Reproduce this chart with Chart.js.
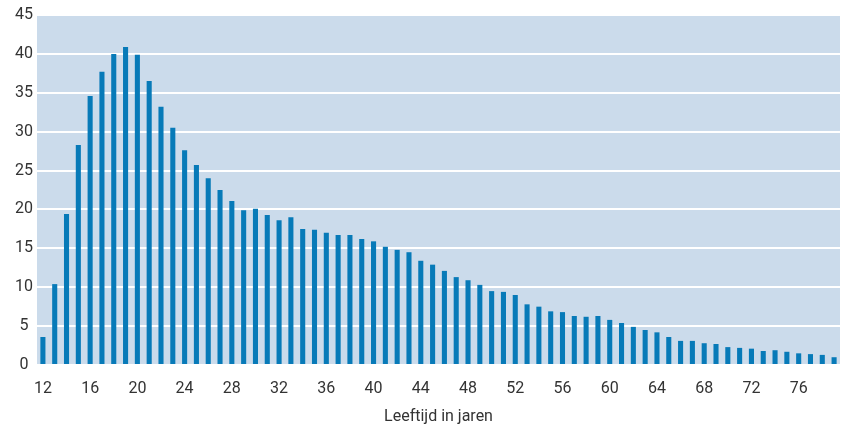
<!DOCTYPE html>
<html>
<head>
<meta charset="utf-8">
<script src="https://cdn.jsdelivr.net/npm/chart.js@4"></script>
<style>
    html, body { margin: 0; padding: 0; background: #ffffff; }
    #wrap { width: 841px; height: 427px; position: relative; }
</style>
</head>
<body>
<div id="wrap"><canvas id="ageChart"></canvas></div>
<script>
// Ages 12 through 79
const ages = [12, 13, 14, 15, 16, 17, 18, 19, 20, 21, 22, 23, 24, 25, 26, 27, 28, 29,
    30, 31, 32, 33, 34, 35, 36, 37, 38, 39, 40, 41, 42, 43, 44, 45, 46, 47, 48, 49,
    50, 51, 52, 53, 54, 55, 56, 57, 58, 59, 60, 61, 62, 63, 64, 65, 66, 67, 68, 69,
    70, 71, 72, 73, 74, 75, 76, 77, 78, 79];
const values = [3.6, 10.4, 19.4, 28.3, 34.6, 37.7, 40.0, 40.9, 39.9, 36.5, 33.2, 30.5,
    27.6, 25.7, 24.0, 22.5, 21.1, 19.9, 20.1, 19.3, 18.6, 19.0, 17.5, 17.4, 17.0, 16.7,
    16.7, 16.2, 15.9, 15.2, 14.8, 14.5, 13.4, 12.9, 12.1, 11.3, 10.9, 10.3, 9.5, 9.4,
    9.0, 7.8, 7.5, 6.9, 6.8, 6.3, 6.2, 6.3, 5.8, 5.4, 4.9, 4.5, 4.2, 3.6, 3.1, 3.1,
    2.8, 2.7, 2.3, 2.2, 2.1, 1.8, 1.9, 1.7, 1.5, 1.4, 1.3, 1.0];
const shownAges = [12, 16, 20, 24, 28, 32, 36, 40, 44, 48, 52, 56, 60, 64, 68, 72, 76];
const xTitle = 'Leeftijd in jaren';

// Paint the plot area light blue before anything else is drawn.
const plotBackground = {
    id: 'plotBackground',
    beforeDraw(chart) {
        const area = chart.chartArea;
        const ctx = chart.ctx;
        ctx.save();
        ctx.fillStyle = '#cbdbeb';
        ctx.fillRect(area.left, area.top, area.right - area.left, area.bottom - area.top);
        ctx.restore();
    }
};

const chart = document.getElementById('ageChart');
new Chart(chart, {
    type: 'bar',
    data: {
        labels: ages,
        datasets: [{
            label: 'Percentage',
            data: values,
            backgroundColor: '#077ab8',
            borderWidth: 0,
            barPercentage: 0.43,
            categoryPercentage: 1
        }]
    },
    options: {
        responsive: true,
        maintainAspectRatio: false,
        animation: false,
        layout: {
            padding: { left: 0, right: 1, top: 15, bottom: 0 }
        },
        scales: {
            x: {
                grid: { display: false },
                border: { display: false },
                ticks: {
                    autoSkip: false,
                    maxRotation: 0,
                    padding: 6,
                    color: '#333333',
                    font: { family: 'Roboto', size: 16 },
                    callback: function(val) {
                        const age = ages[val];
                        return shownAges.includes(age) ? String(age) : '';
                    }
                },
                title: {
                    display: true,
                    text: xTitle,
                    color: '#333333',
                    padding: { top: 0, bottom: 0 },
                    font: { family: 'Roboto', size: 16 }
                },
                afterFit: function(scale) {
                    scale.height = 62;
                }
            },
            y: {
                min: 0,
                max: 45,
                grid: {
                    color: '#ffffff',
                    lineWidth: 2,
                    drawTicks: false
                },
                border: { display: false },
                ticks: {
                    stepSize: 5,
                    crossAlign: 'center',
                    padding: 4,
                    color: '#333333',
                    font: { family: 'Roboto', size: 16 }
                },
                afterFit: function(scale) {
                    scale.width = 37;
                }
            }
        },
        plugins: {
            legend: { display: false },
            tooltip: { enabled: false }
        }
    },
    plugins: [plotBackground]
});
</script>
</body>
</html>
